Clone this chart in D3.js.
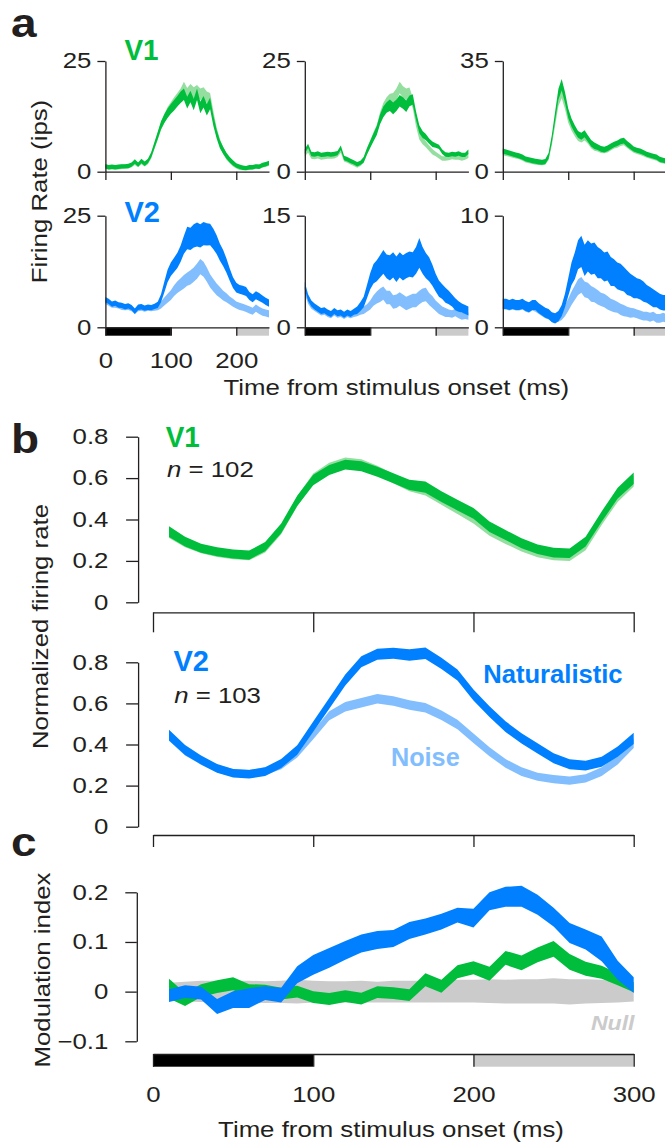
<!DOCTYPE html>
<html><head><meta charset="utf-8">
<script src="https://cdn.jsdelivr.net/npm/d3@7"></script>
<style>
body{margin:0;background:#fff}
svg{display:block}
text{font-family:"Liberation Sans",Arial,Helvetica,sans-serif}
</style>
</head><body>
<svg id="chart" width="665" height="1144"></svg>
<script>
// ---------------- DATA ----------------
// Panel a: 5-ms bins, 0..250 ms (firing rate, ips)
const a1Nat   = [1.2,1.0,1.1,1.0,1.1,1.2,1.2,1.3,1.6,2.3, 1.6,2.4,1.8,2.4,3.8,6.0,8.2,10.5,12.0,13.2, 14.2,15.0,15.9,16.8,17.5,15.6,17.0,15.2,17.5,14.5, 15.8,14.0,15.4,11.5,8.5,6.2,4.8,3.6,2.7,2.0, 1.4,1.1,0.9,0.8,1.0,1.0,1.2,1.1,1.5,1.7, 2.0];
const a1Noise = [1.1,1.0,1.0,1.0,1.0,1.1,1.2,1.2,1.5,2.0, 1.5,2.2,1.7,2.2,3.6,5.8,8.0,10.3,12.0,13.5, 14.6,15.6,16.6,17.5,19.0,17.6,18.5,17.8,18.3,17.5, 17.8,16.8,16.5,12.5,9.0,6.5,4.8,3.4,2.5,1.8, 1.2,0.9,0.8,0.8,0.9,1.0,1.1,1.1,1.4,1.6, 1.8];
const a1Sem   = [0.5,0.5,0.5,0.5,0.5,0.5,0.5,0.5,0.5,0.5, 0.5,0.5,0.5,0.5,0.6,0.7,0.8,0.9,1.0,1.1, 1.1,1.2,1.2,1.3,1.3,1.3,1.3,1.3,1.3,1.3, 1.3,1.3,1.3,1.2,1.0,0.9,0.8,0.7,0.6,0.6, 0.5,0.5,0.5,0.5,0.5,0.5,0.5,0.5,0.5,0.5, 0.5];

const a2Nat   = [4.6,5.8,4.0,3.9,4.1,3.8,3.9,4.0,3.9,4.0, 4.2,5.4,3.1,2.8,2.4,2.1,1.7,2.0,2.7,4.6, 6.2,7.8,9.3,11.8,13.5,14.5,15.0,14.3,15.0,16.0, 15.5,14.8,16.0,16.3,12.6,9.6,8.4,7.8,6.9,6.2, 5.9,5.6,4.5,3.9,3.8,4.0,3.9,4.1,3.8,3.8, 4.5];
const a2Noise = [4.0,4.8,3.4,3.3,3.5,3.2,3.3,3.4,3.4,3.5, 3.8,4.8,2.8,2.5,2.1,1.8,1.4,1.8,2.6,4.6, 6.3,8.0,9.6,12.3,14.3,15.6,16.3,16.5,17.5,19.0, 18.0,17.5,17.8,15.5,11.2,8.2,7.0,6.2,5.3,4.5, 4.0,3.5,3.0,3.0,3.1,3.3,3.2,3.2,3.0,3.2, 3.6];
const a2Sem   = [0.5,0.5,0.5,0.5,0.5,0.5,0.5,0.5,0.5,0.5, 0.5,0.5,0.5,0.5,0.5,0.5,0.5,0.5,0.6,0.7, 0.8,0.9,1.0,1.1,1.2,1.2,1.3,1.3,1.3,1.3, 1.3,1.3,1.2,1.2,1.0,0.9,0.8,0.7,0.6,0.6, 0.5,0.5,0.5,0.5,0.5,0.5,0.5,0.5,0.5,0.5, 0.5];

const a3Nat   = [6.5,6.2,5.9,5.6,5.3,5.0,4.6,4.0,3.8,3.5, 3.3,3.1,3.0,3.2,5.0,10.5,17.5,24.5,27.5,23.5, 18.5,15.5,13.5,11.8,11.2,12.0,10.5,9.0,8.2,7.8, 7.2,7.0,7.4,8.0,8.6,9.0,9.6,9.8,8.8,8.0, 7.2,6.8,6.5,6.1,5.5,5.2,4.9,4.6,3.9,3.6, 3.4];
const a3Noise = [6.0,5.8,5.5,5.2,5.0,4.7,4.3,3.7,3.5,3.2, 3.0,2.9,2.8,3.0,4.6,9.6,16.0,22.5,25.0,21.5, 17.0,14.3,12.4,10.8,10.3,11.0,9.8,8.4,7.6,7.3, 6.8,6.7,7.0,7.6,8.2,8.5,9.0,9.3,8.4,7.6, 6.8,6.4,6.1,5.7,5.2,4.9,4.6,4.3,3.6,3.4, 3.2];
const a3Sem   = [0.8,0.8,0.8,0.8,0.8,0.8,0.8,0.8,0.8,0.8, 0.8,0.8,0.8,0.8,0.9,1.2,1.5,1.7,1.8,1.7, 1.5,1.3,1.2,1.1,1.1,1.1,1.0,1.0,1.0,0.9, 0.9,0.9,0.9,0.9,0.9,0.9,0.9,0.9,0.9,0.9, 0.8,0.8,0.8,0.8,0.8,0.8,0.8,0.8,0.8,0.8, 0.8];

const a4Nat      = [6.2,5.8,5.2,5.4,5.0,4.9,4.6,4.8,4.4,3.6, 4.5,4.6,4.3,4.5,4.4,4.7,5.0,6.5,9.0,11.5, 13.0,14.0,15.0,16.5,18.5,20.0,19.8,20.5,20.8,20.5, 21.0,20.8,20.8,19.8,18.5,16.8,15.5,13.8,11.8,10.0, 8.9,8.5,8.3,8.0,7.0,6.5,7.2,6.8,6.3,5.8, 5.4];
const a4NatSem   = [0.6,0.6,0.6,0.6,0.6,0.6,0.6,0.6,0.6,0.6, 0.6,0.6,0.6,0.6,0.6,0.6,0.7,0.9,1.2,1.4, 1.5,1.6,1.7,1.8,2.0,2.5,2.5,2.6,2.7,2.6, 2.6,2.5,2.4,2.3,2.1,1.9,1.8,1.6,1.4,1.2, 1.1,1.0,1.0,1.0,0.9,0.9,0.9,0.9,0.8,0.8, 0.8];
const a4Noise    = [5.8,5.4,5.0,5.0,4.8,4.5,4.4,4.5,4.2,3.6, 4.2,4.3,4.1,4.3,4.2,4.3,4.5,5.0,5.8,6.5, 7.2,8.2,9.0,9.6,10.2,10.8,11.2,11.8,12.6,13.6, 13.0,11.8,10.4,9.4,8.5,7.8,7.1,6.6,6.0,5.5, 5.0,4.7,4.5,4.2,3.9,3.6,4.3,3.8,3.4,3.2, 3.0];
const a4NoiseSem = [0.6,0.6,0.6,0.6,0.6,0.6,0.6,0.6,0.6,0.6, 0.6,0.6,0.6,0.6,0.6,0.6,0.7,0.8,0.9,1.0, 1.1,1.2,1.3,1.4,1.5,1.5,1.6,1.6,1.7,1.7, 1.7,1.6,1.5,1.4,1.3,1.2,1.1,1.0,0.9,0.9, 0.8,0.8,0.8,0.8,0.8,0.8,0.8,0.8,0.8,0.8, 0.8];

const a5Nat      = [5.6,4.0,3.2,2.8,2.5,2.2,2.3,2.0,1.8,2.2, 1.9,2.0,1.7,2.0,1.8,2.1,2.3,2.8,3.4,4.8, 6.2,7.2,7.6,8.2,8.8,8.2,8.0,8.4,7.8,8.4, 8.0,8.3,8.5,8.4,9.0,10.0,9.0,8.3,7.8,7.0, 6.0,5.2,4.8,4.3,4.0,3.6,3.1,2.8,2.6,2.4, 2.2];
const a5NatSem   = [0.5,0.45,0.4,0.4,0.4,0.4,0.4,0.4,0.4,0.4, 0.4,0.4,0.4,0.4,0.4,0.4,0.5,0.6,0.7,0.9, 1.1,1.3,1.4,1.5,1.6,1.6,1.7,1.7,1.7,1.7, 1.7,1.7,1.7,1.7,1.8,2.0,1.8,1.7,1.6,1.4, 1.2,1.1,1.0,1.0,0.9,0.8,0.8,0.7,0.6,0.6, 0.6];
const a5Noise    = [5.0,3.6,2.9,2.6,2.3,2.0,2.1,1.8,1.6,2.0, 1.7,1.8,1.5,1.8,1.6,1.8,1.9,2.1,2.3,2.6, 3.0,3.6,4.0,4.3,4.6,4.0,4.0,3.4,3.5,3.8, 3.5,3.2,3.4,3.6,3.6,4.0,4.3,4.4,3.8,3.4, 2.9,2.5,2.2,2.0,1.9,1.8,2.0,1.7,1.5,1.6, 1.5];
const a5NoiseSem = [0.5,0.45,0.4,0.4,0.4,0.4,0.4,0.4,0.4,0.4, 0.4,0.4,0.4,0.4,0.4,0.4,0.4,0.4,0.5,0.5, 0.6,0.7,0.8,0.9,0.9,0.9,0.9,0.9,0.9,0.9, 0.9,0.9,0.9,0.9,0.9,0.9,0.9,0.9,0.8,0.8, 0.7,0.7,0.6,0.6,0.5,0.5,0.5,0.5,0.5,0.5, 0.5];

const a6Nat      = [2.1,2.1,2.0,2.1,2.0,2.0,2.1,1.9,1.8,2.0, 2.0,1.7,1.5,1.3,1.2,0.9,0.8,1.0,1.5,2.4, 3.6,4.8,5.5,6.5,6.8,6.0,6.4,6.1,6.2,5.8, 5.7,5.4,5.5,5.0,4.9,4.6,4.5,4.3,4.0,3.8, 3.6,3.5,3.4,3.2,3.0,2.8,2.6,2.5,2.3,2.2, 2.2];
const a6NatSem   = [0.45,0.45,0.45,0.45,0.45,0.45,0.45,0.45,0.45,0.45, 0.45,0.45,0.45,0.45,0.45,0.45,0.45,0.45,0.5,0.6, 0.8,1.0,1.2,1.3,1.4,1.4,1.4,1.4,1.4,1.4, 1.3,1.3,1.3,1.3,1.2,1.2,1.2,1.1,1.1,1.0, 1.0,0.9,0.9,0.9,0.8,0.8,0.8,0.7,0.7,0.7, 0.7];
const a6Noise    = [2.0,2.0,1.9,2.0,1.9,1.9,2.0,1.8,1.7,1.9, 1.8,1.6,1.4,1.2,1.1,0.9,0.8,0.9,1.1,1.5, 2.0,2.6,3.1,3.6,3.8,3.4,3.3,3.0,2.9,2.7, 2.5,2.4,2.2,2.0,1.9,1.8,1.6,1.5,1.4,1.3, 1.3,1.2,1.1,1.0,1.0,0.9,1.0,0.8,0.8,0.9, 0.8];
const a6NoiseSem = [0.4,0.4,0.4,0.4,0.4,0.4,0.4,0.4,0.4,0.4, 0.4,0.4,0.4,0.4,0.4,0.4,0.4,0.4,0.45,0.5, 0.55,0.6,0.65,0.7,0.7,0.7,0.7,0.7,0.65,0.65, 0.6,0.6,0.6,0.55,0.55,0.5,0.5,0.5,0.45,0.45, 0.4,0.4,0.4,0.4,0.4,0.4,0.4,0.4,0.4,0.4, 0.4];

const aYMax = [25, 25, 35, 25, 15, 10];
const aTimeTicks = [0, 100, 200];

// Panel b: 10-ms bins, 10..300 ms (normalized firing rate)
const bV1Nat      = [0.341,0.293,0.261,0.244,0.233,0.228,0.269,0.357,0.490,0.591,0.639,0.665,0.657,0.631,0.599,0.567,0.556,0.510,0.470,0.430,0.365,0.325,0.285,0.256,0.240,0.237,0.293,0.414,0.527,0.599];
const bV1NatSem   = [0.026,0.024,0.022,0.022,0.022,0.022,0.022,0.024,0.025,0.025,0.024,0.024,0.024,0.024,0.024,0.025,0.027,0.026,0.026,0.026,0.025,0.024,0.024,0.023,0.023,0.023,0.024,0.025,0.026,0.028];
const bV1Noise    = [0.335,0.288,0.258,0.240,0.229,0.224,0.262,0.352,0.488,0.598,0.650,0.676,0.668,0.637,0.598,0.560,0.540,0.495,0.450,0.405,0.345,0.305,0.268,0.240,0.225,0.222,0.275,0.398,0.510,0.585];
const bV1NoiseSem = [0.024,0.022,0.021,0.021,0.021,0.021,0.022,0.023,0.024,0.024,0.024,0.024,0.023,0.023,0.023,0.023,0.024,0.024,0.024,0.024,0.024,0.023,0.023,0.022,0.022,0.022,0.023,0.024,0.025,0.026];
const bV2Nat      = [0.446,0.373,0.325,0.284,0.260,0.255,0.268,0.308,0.373,0.487,0.600,0.714,0.803,0.839,0.844,0.836,0.844,0.795,0.738,0.641,0.560,0.487,0.430,0.381,0.333,0.304,0.297,0.316,0.365,0.430];
const bV2NatSem   = [0.026,0.024,0.022,0.021,0.021,0.021,0.021,0.022,0.023,0.025,0.026,0.027,0.027,0.027,0.027,0.028,0.028,0.027,0.027,0.027,0.026,0.026,0.025,0.025,0.024,0.024,0.024,0.024,0.025,0.027];
const bV2Noise    = [0.440,0.368,0.322,0.283,0.262,0.258,0.270,0.300,0.357,0.446,0.540,0.584,0.603,0.623,0.612,0.592,0.579,0.542,0.497,0.430,0.365,0.308,0.268,0.243,0.231,0.224,0.235,0.268,0.325,0.406];
const bV2NoiseSem = [0.022,0.021,0.020,0.019,0.019,0.019,0.019,0.020,0.020,0.021,0.022,0.023,0.023,0.023,0.023,0.023,0.023,0.023,0.023,0.023,0.022,0.021,0.021,0.020,0.020,0.020,0.020,0.021,0.022,0.023];
const bYTicks = [0, 0.2, 0.4, 0.6, 0.8];

// Panel c: modulation index, 10..300 ms
const cV1    = [0.006,-0.016,0.002,0.010,0.016,0.003,0.002,-0.004,0.000,-0.011,-0.015,-0.009,-0.014,-0.001,-0.003,-0.007,0.024,0.011,0.040,0.048,0.036,0.068,0.058,0.074,0.086,0.060,0.046,0.039,0.025,0.009];
const cV1Sem = [0.020,0.013,0.013,0.013,0.013,0.012,0.012,0.012,0.012,0.012,0.012,0.012,0.012,0.012,0.012,0.012,0.013,0.013,0.013,0.013,0.014,0.014,0.015,0.015,0.016,0.016,0.014,0.013,0.012,0.010];
const cV2    = [-0.008,0.000,-0.003,-0.030,-0.016,-0.013,-0.003,-0.007,0.034,0.054,0.068,0.083,0.097,0.104,0.107,0.123,0.131,0.141,0.154,0.148,0.182,0.191,0.192,0.175,0.150,0.118,0.105,0.086,0.043,0.013];
const cV2Sem = [0.013,0.013,0.013,0.015,0.017,0.020,0.014,0.015,0.017,0.020,0.020,0.019,0.018,0.018,0.017,0.017,0.016,0.016,0.015,0.019,0.018,0.020,0.021,0.020,0.019,0.020,0.020,0.025,0.019,0.016];
const cNullHi = [0.018,0.020,0.022,0.022,0.022,0.022,0.021,0.022,0.024,0.022,0.021,0.021,0.022,0.020,0.022,0.022,0.022,0.023,0.024,0.024,0.025,0.024,0.025,0.025,0.027,0.025,0.025,0.024,0.020,0.012];
const cNullLo = [-0.018,-0.020,-0.021,-0.022,-0.022,-0.022,-0.023,-0.023,-0.024,-0.022,-0.022,-0.022,-0.022,-0.022,-0.022,-0.022,-0.022,-0.022,-0.022,-0.022,-0.023,-0.024,-0.024,-0.024,-0.024,-0.026,-0.024,-0.023,-0.022,-0.020];
const cYTicks = [-0.1, 0, 0.1, 0.2];
const bcTimeTicks = [0, 100, 200, 300];

// ---------------- DRAWING ----------------
const svg = d3.select('#chart');
const INK = '#231f20';
const GREEN = '#00be3c', GREEN_L = '#94dea0', BLUE = '#0080ff', BLUE_L = '#82befe', GRAY = '#cbcbcb';
const FS = 21.5, SX = 1.2;

function txt(x, y, s, o = {}) {
  return svg.append('text')
    .attr('transform', `translate(${x},${y}) rotate(${o.rot || 0}) scale(${o.sx || SX},1)`)
    .attr('text-anchor', o.anchor || 'start')
    .attr('font-size', o.size || FS)
    .attr('font-weight', o.weight || 'normal')
    .attr('font-style', o.style || 'normal')
    .attr('fill', o.fill || INK)
    .text(s);
}
function styleAxis(g) {
  g.attr('font-size', FS).attr('color', INK);
  g.select('.domain').attr('stroke-width', 1.3);
  g.selectAll('.tick line').attr('stroke-width', 1.3);
  g.selectAll('.tick text').each(function () {
    const t = d3.select(this);
    const x = +t.attr('x') || 0, y = +t.attr('y') || 0;
    t.attr('x', 0).attr('y', 0).attr('transform', `translate(${x},${y}) scale(${SX},1)`);
  });
}
function band(xs, ys, times, mean, sem, color) {
  const data = mean.map((m, i) => ({ t: times[i], lo: m - sem[i], hi: m + sem[i] }));
  svg.append('path').datum(data)
    .attr('d', d3.area().x(d => xs(d.t)).y0(d => ys(d.lo)).y1(d => ys(d.hi)))
    .attr('fill', color);
}
function range(data, lo, hi) { return data.map((d, i) => ({ lo: lo[i], hi: hi[i] })); }

// ---- Panel a ----
const aTime = a1Nat.map((_, i) => i * 5);
const aX0 = [105.4, 304.8, 502.8], aW = 163.6;
const rows = [{ top: 61, base: 171.7 }, { top: 215.7, base: 327.3 }];
const aSeries = [
  [a1Noise, a1Sem, a1Nat, a1Sem, GREEN_L, GREEN],
  [a2Noise, a2Sem, a2Nat, a2Sem, GREEN_L, GREEN],
  [a3Noise, a3Sem, a3Nat, a3Sem, GREEN_L, GREEN],
  [a4Noise, a4NoiseSem, a4Nat, a4NatSem, BLUE_L, BLUE],
  [a5Noise, a5NoiseSem, a5Nat, a5NatSem, BLUE_L, BLUE],
  [a6Noise, a6NoiseSem, a6Nat, a6NatSem, BLUE_L, BLUE]
];
aSeries.forEach((s, k) => {
  const r = rows[Math.floor(k / 3)], c = k % 3;
  const x = d3.scaleLinear().domain([0, 250]).range([aX0[c], aX0[c] + aW]);
  const y = d3.scaleLinear().domain([0, aYMax[k]]).range([r.base, r.top]);
  band(x, y, aTime, s[0], s[1], s[4]);
  band(x, y, aTime, s[2], s[3], s[5]);
  // y axis
  const gy = svg.append('g').attr('transform', `translate(${aX0[c]},0)`)
    .call(d3.axisLeft(y).tickValues([0, aYMax[k]]).tickSize(8).tickSizeOuter(0).tickPadding(6));
  styleAxis(gy);
  if (k >= 3) {
    svg.append('rect').attr('x', x(0)).attr('y', r.base).attr('width', x(100) - x(0)).attr('height', 8.4).attr('fill', '#000');
    svg.append('rect').attr('x', x(200)).attr('y', r.base).attr('width', x(250) - x(200)).attr('height', 8.4).attr('fill', GRAY);
  }
  const gx = svg.append('g').attr('transform', `translate(0,${r.base})`)
    .call(d3.axisBottom(x).tickValues(aTimeTicks).tickSize(8.4).tickSizeOuter(0).tickPadding(16.6)
      .tickFormat(k === 3 ? d3.format('d') : ''));
  styleAxis(gx);
});
txt(11, 36.7, 'a', { size: 40, weight: 'bold', sx: 1.15 });
txt(124.5, 60, 'V1', { size: 30, weight: 'bold', sx: 0.93, fill: GREEN });
txt(124.5, 221.7, 'V2', { size: 29, weight: 'bold', sx: 1.0, fill: BLUE });
txt(47, 191.5, 'Firing Rate (ips)', { rot: -90, anchor: 'middle' });
txt(396.3, 394.7, 'Time from stimulus onset (ms)', { anchor: 'middle' });

// ---- Panel b ----
const bTime = bV1Nat.map((_, i) => (i + 1) * 10);
const xB = d3.scaleLinear().domain([0, 300]).range([153, 633.7]);
const yB1 = d3.scaleLinear().domain([0, 0.8]).range([602.3, 436.7]);
const yB2 = d3.scaleLinear().domain([0, 0.8]).range([826.7, 662.3]);
const fmtB = d => d === 0 ? '0' : d3.format('.1f')(d);
band(xB, yB1, bTime, bV1Noise, bV1NoiseSem, GREEN_L);
band(xB, yB1, bTime, bV1Nat, bV1NatSem, GREEN);
band(xB, yB2, bTime, bV2Noise, bV2NoiseSem, BLUE_L);
band(xB, yB2, bTime, bV2Nat, bV2NatSem, BLUE);
[yB1, yB2].forEach(y => {
  styleAxis(svg.append('g').attr('transform', 'translate(138.1,0)')
    .call(d3.axisLeft(y).tickValues(bYTicks).tickFormat(fmtB).tickSize(12).tickSizeOuter(0).tickPadding(17.7)));
});
styleAxis(svg.append('g').attr('transform', 'translate(0,612.3)')
  .call(d3.axisBottom(xB).tickValues(bcTimeTicks).tickFormat('').tickSize(20).tickSizeOuter(0)));
styleAxis(svg.append('g').attr('transform', 'translate(0,835)')
  .call(d3.axisBottom(xB).tickValues(bcTimeTicks).tickFormat('').tickSize(12).tickSizeOuter(0)));
txt(11, 453.3, 'b', { size: 40, weight: 'bold', sx: 1.15 });
txt(165.7, 446.7, 'V1', { size: 30, weight: 'bold', sx: 0.93, fill: GREEN });
txt(173.4, 670.7, 'V2', { size: 29, weight: 'bold', sx: 1.0, fill: BLUE });
[[167, 476.7, ' = 102'], [174.2, 703.3, ' = 103']].forEach(([x, y, s]) => {
  const t = txt(x, y, '');
  t.append('tspan').attr('font-style', 'italic').text('n');
  t.append('tspan').text(s);
});
txt(483.2, 683.3, 'Naturalistic', { size: 25.6, weight: 'bold', sx: 1.0, fill: BLUE });
txt(391, 765.7, 'Noise', { size: 26, weight: 'bold', sx: 0.97, fill: BLUE_L });
txt(48, 626.5, 'Normalized firing rate', { rot: -90, anchor: 'middle' });

// ---- Panel c ----
const yC = d3.scaleLinear().domain([-0.1, 0.2]).range([1041.3, 892.3]);
const nullData = cNullLo.map((lo, i) => ({ t: bTime[i], lo, hi: cNullHi[i] }));
svg.append('path').datum(nullData)
  .attr('d', d3.area().x(d => xB(d.t)).y0(d => yC(d.lo)).y1(d => yC(d.hi)))
  .attr('fill', GRAY);
band(xB, yC, bTime, cV1, cV1Sem, GREEN);
band(xB, yC, bTime, cV2, cV2Sem, BLUE);
styleAxis(svg.append('g').attr('transform', 'translate(136.8,0)')
  .call(d3.axisLeft(yC).tickValues(cYTicks).tickFormat(d => d === 0 ? '0' : d3.format('.1f')(d))
    .tickSize(11.5).tickSizeOuter(0).tickPadding(17)));
svg.append('rect').attr('x', xB(0)).attr('y', 1054).attr('width', xB(100) - xB(0)).attr('height', 12.7).attr('fill', '#000');
svg.append('rect').attr('x', xB(200)).attr('y', 1054).attr('width', xB(300) - xB(200)).attr('height', 12.7).attr('fill', GRAY);
styleAxis(svg.append('g').attr('transform', 'translate(0,1054)')
  .call(d3.axisBottom(xB).tickValues(bcTimeTicks).tickFormat(d3.format('d')).tickSize(12.7).tickSizeOuter(0).tickPadding(20)));
txt(11, 856, 'c', { size: 40, weight: 'bold', sx: 1.15 });
txt(634.5, 1030, 'Null', { size: 21, weight: 'bold', style: 'italic', sx: 1.1, fill: GRAY, anchor: 'end' });
txt(50, 970, 'Modulation index', { rot: -90, anchor: 'middle' });
txt(391, 1136.5, 'Time from stimulus onset (ms)', { anchor: 'middle' });
</script>
</body></html>
